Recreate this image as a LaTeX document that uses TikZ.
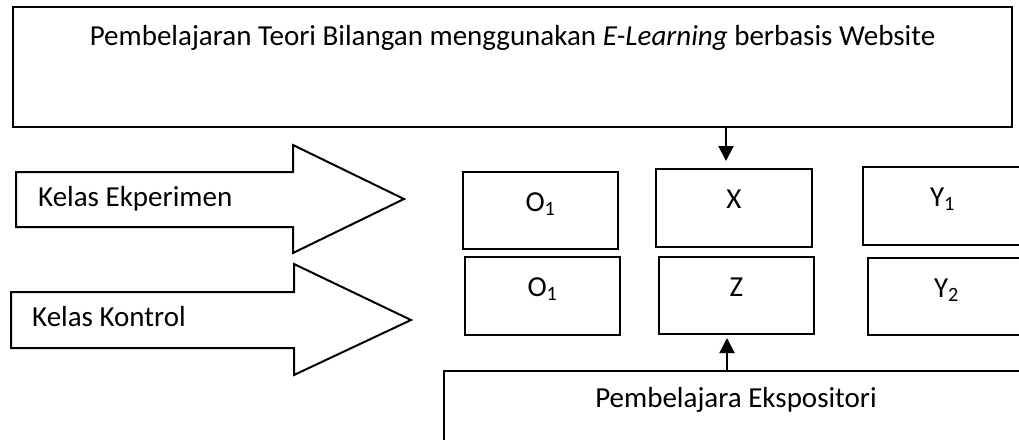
\documentclass[tikz,border=0pt]{standalone}
\usepackage{fontspec}
\setmainfont{Carlito}
\usetikzlibrary{arrows.meta}
\begin{document}
\begin{tikzpicture}[x=1pt,y=-1pt,
  font=\fontsize{29}{35}\selectfont,
  frame/.style={draw, rectangle, line width=2pt, inner sep=0pt},
  cell/.style={frame, label={[anchor=base, yshift=-40pt]north:#1}},
  blk/.style={draw, line width=2pt, line join=miter},
  conn/.style={line width=2pt, -{Triangle[width=15pt,length=15pt]}},
  txt/.style={inner sep=0pt, anchor=base west}]
\clip (0,0) rectangle (1019,439);

% heading box (e-learning treatment)
\node[frame, minimum width=999pt, minimum height=120pt,
  label={[anchor=base, yshift=-39pt]north:Pembelajaran Teori Bilangan menggunakan \textit{E-Learning} berbasis Website}]
  (web) at (512.5,67) {};

% block arrows for the two classes
\draw[blk] (16,172) -- (293,172) -- (293,145) -- (404,199) -- (293,253) -- (293,227) -- (16,227) -- cycle;
\node[txt] (eks) at (38,206) {Kelas Ekperimen};
\draw[blk] (11,292) -- (294,292) -- (294,264) -- (411,320) -- (294,375) -- (294,348) -- (11,348) -- cycle;
\node[txt] (kon) at (32,326) {Kelas Kontrol};

% design cells
\node[cell={O\textsubscript{1}}, minimum width=155pt, minimum height=77pt] (o1e) at (540.5,210.5) {};
\node[cell={X}, minimum width=156pt, minimum height=78pt] (x) at (734,208) {};
\node[cell={Y\textsubscript{1}}, minimum width=159pt, minimum height=78pt] (y1) at (942.5,206) {};
\node[cell={O\textsubscript{1}}, minimum width=155pt, minimum height=78pt] (o1k) at (542.5,296) {};
\node[cell={Z}, minimum width=155pt, minimum height=77pt] (z) at (736.5,295.5) {};
\node[cell={Y\textsubscript{2}}, minimum width=157pt, minimum height=77pt] (y2) at (946.5,296.5) {};

% expository treatment box
\node[frame, minimum width=584pt, minimum height=89pt,
  label={[anchor=base, yshift=-37.5pt]north:Pembelajara Ekspositori}]
  (ekspo) at (736,415.5) {};

% treatment connectors
\coordinate (p) at (726,0);
\draw[conn, shorten >=7pt] (p |- web.south) -- (p |- x.north);
\coordinate (q) at (727,0);
\draw[conn, shorten >=3pt] (q |- ekspo.north) -- (q |- z.south);
\end{tikzpicture}
\end{document}
